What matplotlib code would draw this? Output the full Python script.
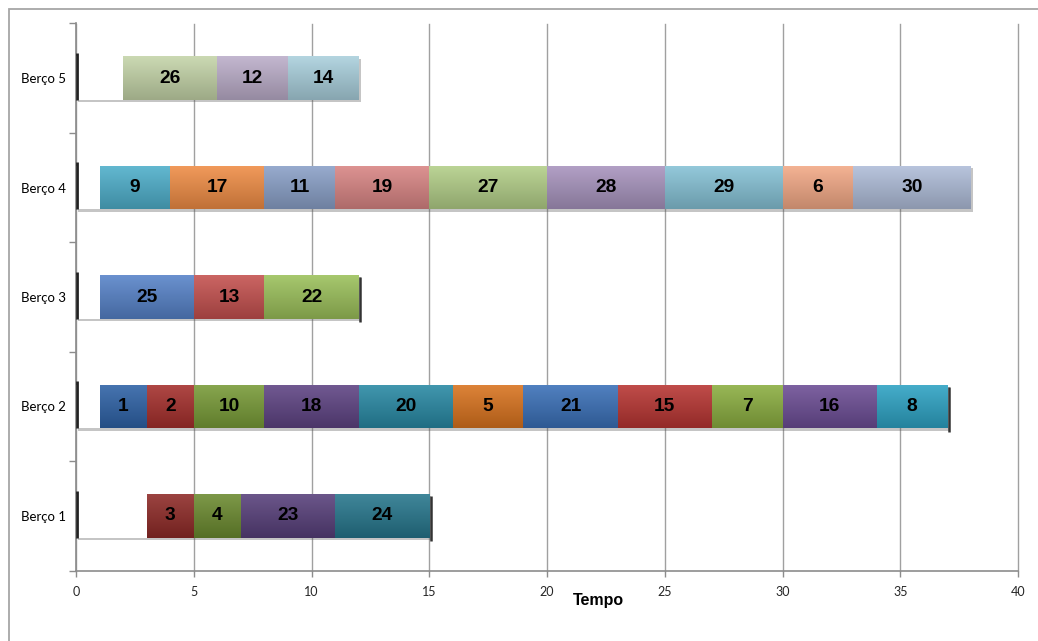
import numpy as np
import matplotlib
matplotlib.use("Agg")
import matplotlib.pyplot as plt
import matplotlib.patheffects as pe
from matplotlib.colors import to_rgb
from matplotlib.patches import Rectangle

# Berth schedule: idle offset before the first ship, then ships and their service times
berths = ["Berço 1", "Berço 2", "Berço 3", "Berço 4", "Berço 5"]
start_times = [3, 1, 1, 1, 2]

ships_b1 = [3, 4, 23, 24]
times_b1 = [2, 2, 4, 4]
colors_b1 = ["#8E2A27", "#6B8A2F", "#573F7A", "#26768C"]

ships_b2 = [1, 2, 10, 18, 20, 5, 21, 15, 7, 16, 8]
times_b2 = [2, 2, 3, 4, 4, 3, 4, 4, 3, 4, 3]
colors_b2 = ["#2E62A6", "#A52F2C", "#789B37", "#5E4383", "#2889A4", "#D9731E",
             "#3A70B8", "#B83532", "#8BAE40", "#6C4D95", "#2DA3C4"]

ships_b3 = [25, 13, 22]
times_b3 = [4, 3, 4]
colors_b3 = ["#5682C8", "#C4504E", "#9BC05A"]

ships_b4 = [9, 17, 11, 19, 27, 28, 29, 6, 30]
times_b4 = [3, 4, 3, 4, 5, 5, 5, 3, 5]
colors_b4 = ["#4EAFCB", "#F08D45", "#8AA0C8", "#D98584", "#B3CF88",
             "#A894BE", "#86C2D6", "#F3A986", "#AFBDD9"]

ships_b5 = [26, 12, 14]
times_b5 = [4, 3, 3]
colors_b5 = ["#C4D4A8", "#BBADC9", "#A9CFDC"]

ships = [ships_b1, ships_b2, ships_b3, ships_b4, ships_b5]
times = [times_b1, times_b2, times_b3, times_b4, times_b5]
colors = [colors_b1, colors_b2, colors_b3, colors_b4, colors_b5]
dark_end = [True, True, True, False, False]

x_ticks = [0, 5, 10, 15, 20, 25, 30, 35, 40]
x_label = "Tempo"

W, H = 1038, 641
fig = plt.figure(figsize=(W / 100, H / 100), dpi=100)
fig.patch.set_facecolor("white")

# outer chart border (open at right and bottom)
fig.add_artist(Rectangle((9 / W, -0.1), 1.2, 1 - 9 / H + 0.1, transform=fig.transFigure,
                         fill=False, edgecolor="#A6A6A6", linewidth=1.3))

ax = fig.add_axes([76 / W, 1 - 570.5 / H, (1018 - 76) / W, (570.5 - 23.5) / H])
ax.set_facecolor("white")

bar_h = 0.4
shadow = [pe.SimplePatchShadow(offset=(1.6, -1.6), shadow_rgbFace="0.35", alpha=0.35),
          pe.Normal()]


def gradient(color):
    c = np.array(to_rgb(color))
    top = np.clip(c + (1 - c) * 0.12, 0, 1)
    bot = c * 0.80
    t = np.linspace(0, 1, 64)[:, None]
    return (top * (1 - t) + bot * t)[:, None, :]


z = 3
for i, name in enumerate(berths):
    # idle portion before the first ship
    wb = ax.barh(i, start_times[i], left=0, height=bar_h, color="white",
                 edgecolor="none", zorder=z)
    wb[0].set_path_effects(shadow)
    z += 2
    left = start_times[i]
    for ship, dur, col in zip(ships[i], times[i], colors[i]):
        b = ax.barh(i, dur, left=left, height=bar_h, color=col, edgecolor="none", zorder=z)
        patch = b[0]
        patch.set_path_effects(shadow)
        im = ax.imshow(gradient(col), extent=(left, left + dur, i - bar_h / 2, i + bar_h / 2),
                       aspect="auto", origin="upper", zorder=z + 0.5, interpolation="bilinear")
        im.set_clip_path(patch)
        ax.text(left + dur / 2, i, str(ship), ha="center", va="center",
                fontsize=13.8, fontweight="bold", family="Liberation Sans",
                color="black", zorder=z + 1)
        z += 2
        left += dur
    # dark edge lines at the start and end of each berth bar
    ax.plot([0.05, 0.05], [i - bar_h / 2, i + bar_h / 2 + 0.03], color="#222222",
            lw=2.0, zorder=z, solid_capstyle="butt", clip_on=False)
    if dark_end[i]:
        ax.plot([left + 0.06, left + 0.06], [i - bar_h / 2 - 0.03, i + bar_h / 2 - 0.02],
                color="#333333", lw=1.8, zorder=z, solid_capstyle="butt")
    z += 1

ax.set_xlim(0, 40)
ax.set_ylim(-0.5, len(berths) - 0.5)

ax.set_xticks(x_ticks)
ax.set_xticklabels([str(v) for v in x_ticks], fontsize=9, family="Lato", color="#262626")
ax.tick_params(axis="x", direction="out", length=4, width=1, color="#8C8C8C", pad=7)

ax.set_yticks(range(len(berths)))
ax.set_yticklabels(berths, fontsize=9.5, family="Lato", color="black")
ax.set_yticks(np.arange(-0.5, len(berths), 1.0), minor=True)
ax.tick_params(axis="y", which="major", length=0, pad=7)
ax.tick_params(axis="y", which="minor", direction="out", length=5, width=1, color="#8C8C8C")

ax.grid(axis="x", color="#A0A0A0", linewidth=1.0, zorder=0)
for gl in ax.get_xgridlines():
    gl.set_clip_on(False)
ax.set_axisbelow(True)

for side in ["top", "right"]:
    ax.spines[side].set_visible(False)
for side in ["left", "bottom"]:
    ax.spines[side].set_color("#8C8C8C")
    ax.spines[side].set_linewidth(1.2)

fig.text(598 / W, 1 - 601 / H, x_label, ha="center", va="center",
         fontsize=11.5, fontweight="bold", family="Liberation Sans")

fig.savefig("out.png", dpi=100)
